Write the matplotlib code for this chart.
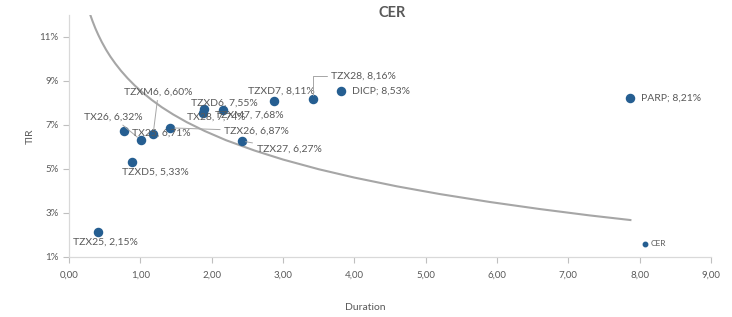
import matplotlib
matplotlib.use('Agg')
import matplotlib.pyplot as plt
from matplotlib.ticker import FuncFormatter, MultipleLocator

# bonds: duration, TIR (%)
bonos = ['TZX25', 'TZXD5', 'TX26', 'TX25', 'TZXM6', 'TZX26', 'TZXD6', 'TX28',
         'TZXM7', 'TZXD7', 'TZX28', 'DICP', 'TZX27', 'PARP']
duration = [0.41, 0.88, 1.005, 0.77, 1.18, 1.42, 1.88, 1.89,
            2.16, 2.88, 3.42, 3.82, 2.42, 7.87]
tir = [2.15, 5.33, 6.32, 6.71, 6.60, 6.87, 7.55, 7.74,
       7.68, 8.11, 8.16, 8.53, 6.27, 8.21]
separador = [',', ',', ',', ',', ',', ',', ',', ',',
             ',', ',', ',', ';', ',', ';']

# curve
curva_x = [0.30, 0.33, 0.37, 0.41, 0.46, 0.52, 0.58, 0.65, 0.73, 0.82, 0.92, 1.03, 1.16, 1.30,
           1.46, 1.65, 1.90, 2.20, 2.60, 3.00, 3.50, 4.00, 4.60, 5.20, 5.90, 6.60, 7.30, 7.87]
curva_y = [11.99, 11.72, 11.39, 11.10, 10.77, 10.42, 10.11, 9.79, 9.46, 9.13, 8.80, 8.48, 8.14, 7.81,
           7.48, 7.13, 6.73, 6.31, 5.84, 5.43, 4.99, 4.61, 4.21, 3.86, 3.50, 3.18, 2.89, 2.68]

# label offsets in pixels (dx, dy) and whether a leader line is drawn
offsets = [(-25, -10), (-10, -10), (-57, 23), (8, -2), (-29, 42), (54, -3), (-12, 10), (-17, -8),
           (-8, -5), (-26, 9), (18, 23), (11, 0), (15, -8), (11, 0)]
leader = [False, False, True, False, True, True, False, False,
          False, False, True, False, True, False]

gris = '#595959'
azul = '#255E91'
plt.rcParams['font.family'] = ['Lato', 'DejaVu Sans']

fig = plt.figure(figsize=(7.32, 3.17), dpi=100)
ax = fig.add_axes([69/732, 1 - 257/317, 642/732, 242/317])

ax.plot(curva_x, curva_y, color='#A6A6A6', lw=1.5, zorder=1, solid_joinstyle='round')
sc = ax.scatter(duration, tir, s=34, color=azul, zorder=3, label='CER')

for i, nombre in enumerate(bonos):
    texto = f'{nombre}{separador[i]} {tir[i]:.2f}%'.replace('.', ',')
    props = None
    if leader[i]:
        cs = 'angle,angleA=0,angleB=90,rad=0' if nombre == 'TZX28' else 'arc3'
        props = dict(arrowstyle='-', color='#A6A6A6', lw=0.7, shrinkA=1, shrinkB=3,
                     connectionstyle=cs)
    ax.annotate(texto, (duration[i], tir[i]), xytext=offsets[i], textcoords='offset pixels',
                ha='left', va='center', fontsize=7.5, color=gris, arrowprops=props, zorder=4)

ax.set_xlim(0, 9)
ax.set_ylim(1, 12)
ax.xaxis.set_major_locator(MultipleLocator(1))
ax.set_yticks([1, 3, 5, 7, 9, 11])
ax.xaxis.set_major_formatter(FuncFormatter(lambda v, p: f'{v:.2f}'.replace('.', ',')))
ax.yaxis.set_major_formatter(FuncFormatter(lambda v, p: f'{v:.0f}%'))
ax.tick_params(colors='#BFBFBF', labelcolor=gris, labelsize=7, length=4, width=0.8)
ax.tick_params(axis='x', pad=6)
for s in ['top', 'right']:
    ax.spines[s].set_visible(False)
for s in ['left', 'bottom']:
    ax.spines[s].set_color('#D9D9D9')
    ax.spines[s].set_linewidth(0.9)

fig.text(392/732, 1 - 13/317, 'CER', ha='center', va='center', fontsize=10.5,
         fontweight='bold', color=gris)
fig.text(30/732, 1 - 136/317, 'TIR', ha='center', va='center', rotation=90, fontsize=7.5, color=gris)
fig.text(365/732, 1 - 307/317, 'Duration', ha='center', va='center', fontsize=7.5, color=gris)

ax.legend(handles=[sc], loc='center left', bbox_to_anchor=(636/732, 1 - 244/317),
          bbox_transform=fig.transFigure, frameon=False, fontsize=6, markerscale=0.55,
          handletextpad=0.0, borderpad=0, labelcolor=gris, handlelength=1.2)

fig.savefig('out.png', dpi=100)
